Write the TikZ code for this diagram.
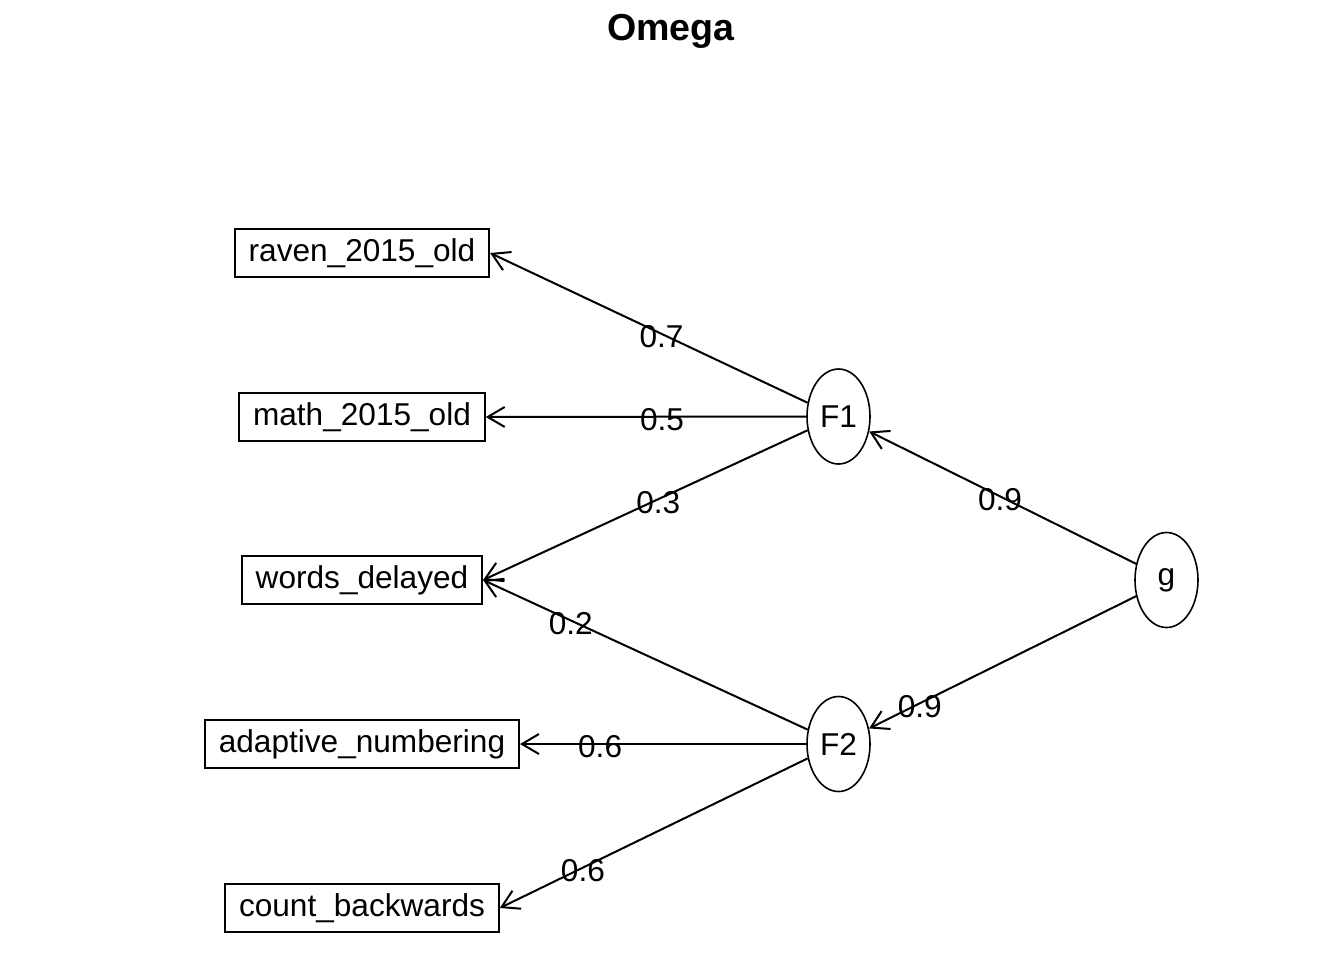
\documentclass[tikz,border=0pt]{standalone}
\usepackage{fontspec}
\setmainfont{Liberation Sans}
\usetikzlibrary{arrows.meta,shapes.geometric}

\begin{document}
\begin{tikzpicture}[x=0.5pt,y=-0.5pt,
	obs/.style={draw,line width=1pt,minimum height=24pt,inner xsep=6.9pt,inner ysep=0pt,font=\fontsize{15.8}{18}\selectfont},
	lat/.style={draw,ellipse,line width=0.8pt,minimum width=31.5pt,minimum height=47.5pt,inner sep=0pt,font=\fontsize{15.8}{18}\selectfont},
	load/.style={line width=1pt,-{Straight Barb[length=8.5pt,width=10pt]}},
	lab/.style={inner sep=0pt,yshift=-1.5pt,font=\fontsize{15.8}{18}\selectfont}]
		\useasboundingbox (0,0) rectangle (1344,960);
		\node[font=\fontsize{18.8}{22}\selectfont\bfseries] (title) at (671,31) {Omega};
		% observed variables
		\node[obs] (raven) at (362,253) {raven\_2015\_old};
		\node[obs] (math) at (362,417) {math\_2015\_old};
		\node[obs] (words) at (362,580) {words\_delayed};
		\node[obs] (adapt) at (362,744) {adaptive\_numbering};
		\node[obs] (count) at (362,908) {count\_backwards};
		% factors
		\node[lat] (F1) at (838.5,416.5) {F1};
		\node[lat] (F2) at (838.5,744) {F2};
		\node[lat] (g) at (1166.5,580) {g};
		% loadings
		\draw[load] (F1.156) to node[lab,pos=0.46] {0.7} (raven.east);
		\draw[load] (F1.west) to node[lab,pos=0.45] {0.5} (math.east);
		\draw[load] (F1.204) to node[lab,pos=0.46] {0.3} (words.east);
		\draw[load] (F2.155) to node[lab,pos=0.73] {0.2} (words.east);
		\draw[load] (F2.west) to node[lab,pos=0.72] {0.6} (adapt.east);
		\draw[load] (F2.205) to node[lab,pos=0.73] {0.6} (count.east);
		\draw[load] (g.152) to node[lab,pos=0.51] {0.9} (F1.334);
		\draw[load] (g.208) to node[lab,pos=0.81] {0.9} (F2.27);
\end{tikzpicture}
\end{document}
